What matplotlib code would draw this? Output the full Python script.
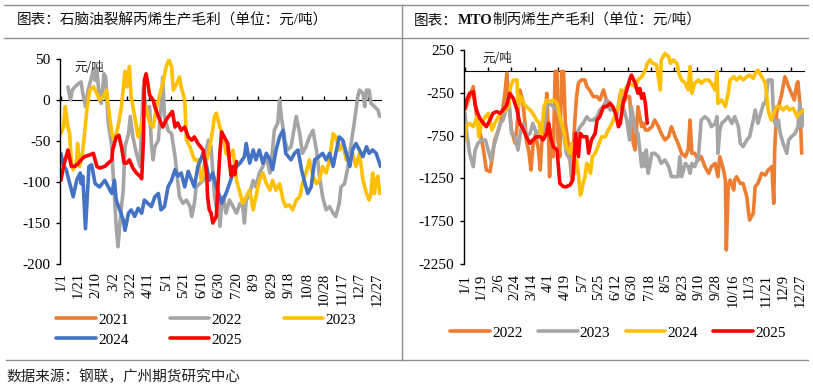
import numpy as np
import matplotlib.pyplot as plt
from matplotlib.lines import Line2D

plt.rcParams['font.family'] = ['Liberation Serif', 'Noto Sans CJK SC']
plt.rcParams['axes.unicode_minus'] = False

ORANGE = '#ED7D31'
GREY = '#A5A5A5'
YELLOW = '#FFC000'
BLUE = '#4472C4'
RED = '#FF0000'
CJK = ['Noto Sans CJK SC', 'DejaVu Sans']

# ---------- 石脑油裂解丙烯生产毛利 (x = day of year) ----------
nap21_d = []
nap21_v = []
nap22_d = [8, 11, 13, 16, 20, 23, 25, 28, 31, 34, 37, 39, 41, 44, 46, 49, 51, 54, 58, 59,
           61, 63, 65, 67, 69, 71, 73, 77, 79, 82, 86, 90, 92, 94, 97, 101, 103, 105, 107, 111,
           114, 116, 118, 122, 126, 130, 133, 135, 139, 143, 147, 149, 152, 154, 158, 162, 164, 168, 171, 175,
           177, 179, 181, 183, 185, 188, 192, 196, 200, 204, 207, 209, 211, 215, 219, 222, 226, 230, 234, 238,
           241, 243, 247, 249, 251, 255, 258, 262, 264, 268, 272, 275, 279, 283, 287, 291, 294, 298, 302, 306,
           310, 313, 317, 319, 323, 327, 330, 334, 338, 340, 344, 346, 348, 351, 353, 357, 361, 363]
nap22_v = [16, 0, 12, 16, 20, 22, 8, -8, 12, 24, 37, 24, 37, 0, -4, 32, 28, -28, -57, -81,
           -118, -154, -179, -154, -130, -110, -57, -41, -20, -45, -65, -81, -28, 16, -12, -8, -53, -73, -57, -49,
           -8, 28, -20, -37, -41, -69, -98, -118, -126, -122, -130, -142, -126, -106, -102, -98, -69, -49, -57, -118,
           -130, -110, -154, -130, -118, -138, -122, -130, -138, -126, -130, -150, -122, -114, -98, -106, -89, -81, -69, -89,
           -61, -37, -28, 0, -20, -49, -61, -57, -45, -20, -41, -65, -57, -45, -37, -61, -89, -118, -134, -130,
           -138, -142, -126, -106, -102, -81, -57, -28, 4, 12, 8, -8, 12, 12, -4, -8, -12, -20]
nap23_d = [0, 3, 5, 6, 8, 10, 12, 14, 16, 18, 19, 21, 23, 25, 27, 30, 33, 37, 41, 44,
           48, 52, 54, 58, 61, 65, 69, 73, 75, 78, 80, 84, 88, 92, 97, 101, 105, 109, 113, 116,
           120, 123, 126, 128, 132, 135, 137, 141, 143, 147, 152, 156, 160, 164, 168, 171, 175, 177, 181, 185,
           188, 192, 196, 200, 204, 207, 211, 215, 219, 222, 226, 230, 234, 238, 241, 245, 249, 253, 256, 260,
           264, 268, 272, 275, 279, 283, 287, 291, 294, 298, 302, 306, 310, 313, 317, 321, 325, 329, 332, 336,
           340, 344, 348, 351, 353, 355, 357, 359, 361, 363]
nap23_v = [-41, -33, -8, -16, -33, -41, -77, -85, -81, -73, -53, -81, -73, -61, -41, -8, 12, 16, 8, 0,
           4, 12, -8, -41, -49, -33, -8, 35, 16, 41, 4, -20, -45, -28, -8, -28, -33, -8, 8, 20,
           41, 49, 41, 12, 20, 28, 16, 0, -49, -57, -73, -73, -98, -81, -65, -49, -20, -16, -33, -45,
           -65, -69, -61, -98, -114, -126, -118, -110, -134, -118, -98, -89, -102, -110, -98, -110, -102, -122, -130, -128,
           -134, -122, -118, -102, -89, -73, -93, -102, -98, -81, -89, -73, -41, -45, -61, -53, -73, -69, -65, -81,
           -65, -98, -114, -122, -114, -89, -114, -98, -93, -114]
nap24_d = [0, 3, 6, 14, 18, 22, 23, 25, 28, 32, 35, 39, 44, 50, 54, 58, 61, 63, 67, 71,
           73, 77, 80, 84, 88, 92, 95, 99, 103, 107, 111, 114, 118, 122, 126, 130, 133, 137, 141, 145,
           149, 152, 156, 162, 166, 169, 173, 177, 181, 183, 188, 192, 196, 200, 204, 209, 211, 215, 219, 222,
           226, 230, 234, 238, 241, 245, 249, 253, 256, 262, 266, 270, 274, 277, 281, 285, 289, 294, 298, 302,
           306, 310, 313, 317, 321, 325, 329, 332, 336, 340, 344, 348, 351, 355, 359, 364]
nap24_v = [-65, -80, -85, -118, -98, -89, -102, -93, -157, -81, -79, -102, -106, -98, -106, -114, -98, -122, -134, -146,
           -159, -138, -134, -142, -132, -138, -122, -126, -130, -118, -114, -134, -130, -106, -98, -85, -93, -89, -106, -87,
           -98, -106, -81, -65, -81, -98, -89, -106, -118, -126, -114, -102, -89, -81, -77, -69, -53, -77, -61, -73,
           -61, -77, -65, -73, -85, -61, -45, -37, -65, -73, -65, -61, -85, -98, -114, -106, -73, -69, -65, -73,
           -65, -81, -65, -45, -49, -65, -81, -61, -53, -61, -69, -57, -65, -61, -65, -81]
nap25_d = [0, 3, 6, 8, 12, 16, 20, 23, 27, 33, 37, 41, 44, 50, 54, 58, 59, 63, 66, 69,
           72, 75, 78, 82, 86, 90, 92, 94, 95, 97, 99, 101, 105, 107, 111, 114, 116, 120, 124, 127,
           130, 133, 137, 141, 145, 149, 152, 156, 162, 166, 167, 169, 171, 173, 177, 179, 181, 183, 186, 190,
           192, 194, 196, 198, 200]
nap25_v = [-98, -81, -69, -61, -81, -81, -77, -73, -69, -67, -65, -81, -83, -81, -77, -73, -61, -45, -43, -57,
           -77, -77, -73, -83, -89, -93, -96, -49, 24, 32, 20, 6, 0, -8, -20, -28, -33, -24, -18, -14,
           -33, -28, -37, -33, -45, -49, -45, -53, -61, -89, -118, -134, -138, -150, -142, -102, -65, -39, -45, -53,
           -77, -93, -81, -91, -75]

# ---------- MTO制丙烯生产毛利 ----------
mto22_d = [0, 9, 13, 16, 20, 23, 27, 29, 32, 36, 39, 43, 45, 47, 50, 54, 56, 59, 62, 65,
           66, 69, 71, 73, 76, 79, 81, 83, 86, 88, 90, 91, 93, 95, 97, 99, 100, 102, 104, 106,
           108, 111, 113, 115, 116, 118, 120, 122, 125, 129, 131, 134, 138, 142, 145, 149, 152, 156, 159, 163,
           167, 170, 174, 177, 179, 181, 183, 185, 186, 190, 192, 194, 197, 201, 204, 208, 211, 215, 219, 222,
           226, 229, 233, 237, 240, 242, 244, 247, 251, 254, 258, 262, 265, 269, 272, 274, 278, 280, 281, 283,
           285, 289, 290, 292, 296, 299, 303, 305, 306, 310, 312, 315, 319, 323, 326, 330, 332, 333, 335, 338,
           340, 344, 348, 351, 354, 357, 358, 360, 362]
mto22_v = [-450, -178, -568, -700, -918, -1152, -1171, -1035, -801, -685, -568, -256, -23, -334, -685, -840, -646, -217, -334, -646,
           -801, -957, -1152, -879, -724, -918, -1152, -763, -646, -256, -801, -1230, -685, -996, 0, 0, -801, -996, 0, 0,
           -607, -840, -1035, -1269, -996, -607, -295, -139, -100, -100, -178, -217, -295, -295, -334, -217, -334, -373, -451, -451,
           -412, -373, -295, -295, -607, -840, -918, -568, -412, -646, -607, -685, -685, -646, -568, -646, -724, -801, -763, -646,
           -763, -840, -957, -996, -918, -568, -957, -957, -1035, -996, -1113, -1191, -1113, -1074, -1230, -996, -1152, -1269, -2086, -1347,
           -1269, -1386, -1269, -1230, -1308, -1308, -1463, -1658, -1736, -1658, -1347, -1308, -1191, -1210, -1152, -1113, -1541, -918, -490, -373,
           -295, -62, -178, -256, -334, -139, -120, -373, -957]
mto23_d = [0, 2, 5, 9, 11, 14, 18, 22, 25, 28, 30, 34, 38, 41, 45, 47, 50, 54, 57, 60,
           63, 66, 70, 73, 77, 81, 84, 88, 91, 95, 99, 102, 106, 109, 113, 115, 118, 120, 124, 127,
           131, 134, 138, 142, 145, 149, 152, 156, 159, 163, 167, 170, 174, 177, 179, 183, 186, 190, 192, 194,
           195, 197, 199, 201, 204, 208, 211, 215, 219, 222, 226, 229, 231, 233, 237, 240, 242, 244, 247, 251,
           254, 258, 262, 265, 269, 271, 272, 274, 276, 280, 283, 287, 290, 294, 296, 299, 303, 306, 310, 312,
           315, 319, 321, 323, 326, 330, 332, 335, 337, 339, 342, 346, 348, 351, 355, 358, 360, 362, 364]
mto23_v = [-490, -724, -957, -1113, -918, -840, -801, -801, -918, -1035, -918, -763, -607, -568, -412, -295, -724, -763, -918, -685,
           -607, -763, -724, -607, -724, -685, -685, -412, -373, -412, -451, -529, -724, -957, -1035, -1191, -801, -724, -646, -607,
           -529, -568, -568, -529, -451, -412, -334, -451, -412, -529, -256, -412, -568, -801, -412, -685, -724, -1113, -957, -1113,
           -918, -1191, -1074, -957, -957, -996, -1074, -1035, -1113, -1230, -1230, -1230, -996, -1230, -1074, -1113, -1191, -1074, -1113, -996,
           -568, -529, -568, -646, -607, -529, -957, -685, -607, -568, -529, -607, -529, -646, -840, -879, -801, -763, -568, -451,
           -607, -451, -373, -373, -100, -100, -568, -646, -568, -724, -840, -957, -801, -763, -724, -646, -373, -646, -451]
mto24_d = [0, 1, 5, 9, 13, 15, 18, 22, 25, 29, 32, 36, 39, 43, 47, 49, 52, 56, 57, 60,
           63, 66, 70, 73, 77, 80, 82, 85, 88, 91, 95, 99, 102, 106, 109, 113, 115, 118, 120, 122,
           124, 125, 127, 129, 131, 133, 135, 137, 140, 143, 147, 151, 154, 158, 161, 165, 168, 170, 174, 177,
           183, 186, 190, 194, 196, 199, 202, 206, 210, 211, 215, 219, 221, 224, 228, 230, 233, 237, 240, 242,
           244, 247, 251, 254, 258, 262, 265, 269, 271, 272, 276, 280, 283, 285, 289, 292, 296, 299, 303, 306,
           310, 312, 315, 319, 323, 326, 329, 332, 335, 339, 342, 346, 349, 353, 357, 360, 364]
mto24_v = [-801, -646, -607, -646, -529, -763, -607, -529, -490, -685, -607, -529, -490, -451, -412, -178, -100, -100, -412, -295,
           -373, -412, -451, -490, -568, -607, -763, -412, -334, -353, -334, -373, -529, -685, -879, -957, -840, -1191, -1035, -1191,
           -1444, -1425, -1308, -1230, -1074, -1113, -1191, -996, -957, -879, -763, -763, -685, -607, -529, -412, -217, -256, -178, -139,
           -178, -100, -62, 16, 94, 133, 94, 75, -217, 133, 211, 172, 94, 133, 94, -23, -100, -139, -217, 55,
           -256, -139, -100, -139, -100, -100, -139, -217, 0, -373, -334, -412, -256, -100, -62, -100, -62, -100, -62, -43,
           -82, -23, 16, -62, -139, -451, -568, -490, -412, -412, -451, -412, -451, -431, -529, -490, -451]
mto25_d = [0, 2, 5, 9, 11, 13, 16, 20, 23, 27, 30, 34, 38, 41, 45, 48, 52, 56, 59, 63,
           66, 70, 73, 77, 81, 84, 88, 90, 92, 95, 99, 102, 106, 109, 113, 116, 119, 122, 124, 127,
           131, 133, 136, 140, 142, 145, 149, 152, 156, 159, 162, 165, 167, 170, 174, 177, 179, 183, 186, 188,
           190, 192, 194, 196]
mto25_v = [-431, -334, -256, -237, -392, -470, -548, -607, -646, -568, -490, -470, -490, -451, -392, -256, -314, -451, -607, -685,
           -763, -840, -801, -763, -763, -801, -724, -607, -763, -879, -918, -1308, -1347, -1347, -1327, -1269, -724, -996, -724, -763,
           -763, -957, -801, -724, -568, -529, -412, -412, -373, -412, -490, -646, -607, -373, -217, -100, -43, -139, -256, -200,
           -314, -260, -373, -607]

left_labels = ['1/1', '1/21', '2/10', '3/2', '3/22', '4/11', '5/1', '5/21', '6/10', '6/30',
               '7/20', '8/9', '8/29', '9/18', '10/8', '10/28', '11/17', '12/7', '12/27']
right_labels = ['1/1', '1/19', '2/6', '2/24', '3/14', '4/1', '4/19', '5/7', '5/25', '6/12', '6/30',
                '7/18', '8/5', '8/23', '9/10', '9/28', '10/16', '11/3', '11/21', '12/9', '12/27']

W, H = 813, 385
fig = plt.figure(figsize=(W / 100, H / 100), dpi=100)


def fx(px):
    return px / W


def fy(py):
    return 1 - py / H


def frame_line(x0, y0, x1, y1):
    fig.add_artist(Line2D([fx(x0), fx(x1)], [fy(y0), fy(y1)], transform=fig.transFigure,
                          color='#8f8f8f', lw=1))


frame_line(4, 5, 808, 5)
frame_line(4, 38, 808, 38)
frame_line(6, 360, 808, 360)
frame_line(402, 5, 402, 360)

axL = fig.add_axes([fx(60), fy(264), fx(381 - 60), (264 - 59) / H])
axR = fig.add_axes([fx(464), fy(264), fx(804 - 464), (264 - 50) / H])


def style(ax, ylim, yticks, xpos, xlabels, zero_frac, label_pad):
    ax.set_xlim(-1, 364.5)
    ax.set_ylim(*ylim)
    ax.set_yticks(yticks)
    ax.set_xticks(xpos)
    ax.set_xticklabels(xlabels, rotation=90, fontsize=10.5)
    for s in ['top', 'right', 'bottom']:
        ax.spines[s].set_visible(False)
    ax.spines['left'].set_color('black')
    ax.spines['left'].set_linewidth(1)
    ax.tick_params(axis='x', length=0, pad=label_pad)
    ax.tick_params(axis='y', direction='out', length=3, width=1, labelsize=11, pad=4)
    zero = ax.secondary_xaxis(zero_frac)
    zero.set_xticks(np.arange(0, 365, 25))
    zero.tick_params(direction='out', length=3, width=1, labelbottom=False, labeltop=False)
    zero.spines['bottom'].set_color('black')
    zero.spines['bottom'].set_linewidth(1)


style(axL, (-200, 50), np.arange(-200, 51, 50), np.arange(0, 361, 20), left_labels, 0.8, 6)
style(axR, (-2250, 250), np.arange(-2250, 251, 500), np.arange(0, 361, 18), right_labels, 0.9, 7)

kw = dict(lw=2.6, solid_joinstyle='round', solid_capstyle='round')
hL = [
    axL.plot(nap21_d, nap21_v, color=ORANGE, label='2021', **kw)[0],
    axL.plot(nap22_d, nap22_v, color=GREY, label='2022', **kw)[0],
    axL.plot(nap23_d, nap23_v, color=YELLOW, label='2023', **kw)[0],
    axL.plot(nap24_d, nap24_v, color=BLUE, label='2024', **kw)[0],
    axL.plot(nap25_d, nap25_v, color=RED, label='2025', **kw)[0],
]
hR = [
    axR.plot(mto22_d, mto22_v, color=ORANGE, label='2022', **kw)[0],
    axR.plot(mto23_d, mto23_v, color=GREY, label='2023', **kw)[0],
    axR.plot(mto24_d, mto24_v, color=YELLOW, label='2024', **kw)[0],
    axR.plot(mto25_d, mto25_v, color=RED, label='2025', **kw)[0],
]

axL.text(0.044, 0.96, '元/吨', transform=axL.transAxes, fontsize=9, family=CJK,
         va='center', ha='left', color='#222222')
axR.text(0.053, 0.962, '元/吨', transform=axR.transAxes, fontsize=9, family=CJK,
         va='center', ha='left', color='#222222')

order = [0, 3, 1, 4, 2]
fig.legend([hL[i] for i in order], [hL[i].get_label() for i in order], ncol=3,
           loc='upper left', bbox_to_anchor=(fx(56), fy(313)), frameon=False,
           fontsize=11, handlelength=2.6, handletextpad=0.15, columnspacing=2.7,
           labelspacing=0.4, borderpad=0, borderaxespad=0)
fig.legend(hR, [h.get_label() for h in hR], ncol=4,
           loc='upper left', bbox_to_anchor=(fx(450), fy(326)), frameon=False,
           fontsize=11, handlelength=2.6, handletextpad=0.15, columnspacing=1.0,
           borderpad=0, borderaxespad=0)

# headers
renderer = fig.canvas.get_renderer()


def header(x, y, parts):
    px = x
    for txt, bold in parts:
        t = fig.text(fx(px), fy(y), txt, fontsize=10.5, va='center', ha='left',
                     family=['Liberation Serif', 'Noto Sans CJK SC'],
                     fontweight='bold' if bold else 'normal', color='#111111')
        px = t.get_window_extent(renderer).x1


header(17, 21, [('图表：石脑油裂解丙烯生产毛利（单位：元/吨）', False)])
header(414, 21, [('图表：', False), ('MTO', True), ('制丙烯生产毛利（单位：元/吨）', False)])

fig.text(fx(6), fy(377), '数据来源：钢联，广州期货研究中心', fontsize=10.5, family=CJK,
         va='center', ha='left', color='#222222')

fig.savefig('out.png', dpi=100)
